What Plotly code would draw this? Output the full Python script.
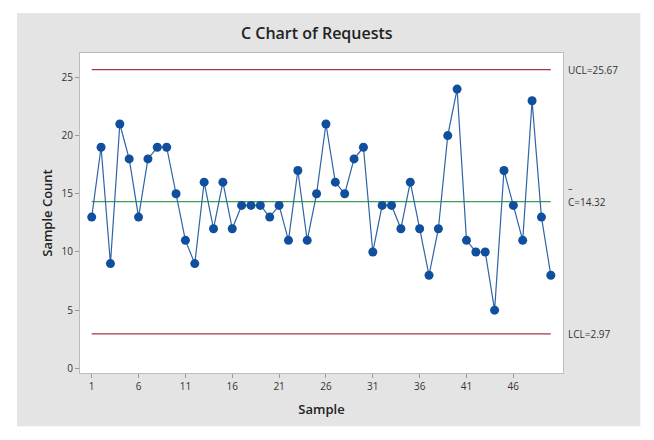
import plotly.graph_objects as go

samples = list(range(1, 51))
counts = [13, 19, 9, 21, 18, 13, 18, 19, 19, 15,
          11, 9, 16, 12, 16, 12, 14, 14, 14, 13,
          14, 11, 17, 11, 15, 21, 16, 15, 18, 19,
          10, 14, 14, 12, 16, 12, 8, 12, 20, 24,
          11, 10, 10, 5, 17, 14, 11, 23, 13, 8]
ucl = 25.67
center = 14.32
lcl = 2.97
x_ticks = [1, 6, 11, 16, 21, 26, 31, 36, 41, 46]
y_ticks = [0, 5, 10, 15, 20, 25]

FONT = "Open Sans"
red = "#a8354a"
green = "#3c9e4e"
blue = "#0f4f9e"

W, H = 646, 432
L, R, T, B = 72, 91.3, 45, 67.3
pw, ph = W - L - R, H - T - B

fig = go.Figure()
for val, col in [(ucl, red), (center, green), (lcl, red)]:
    fig.add_trace(go.Scatter(x=[samples[0], samples[-1]], y=[val, val], mode="lines",
                             line=dict(color=col, width=1.3), hoverinfo="skip", showlegend=False))
fig.add_trace(go.Scatter(x=samples, y=counts, mode="lines+markers",
                         line=dict(color="#2f64a4", width=1.2),
                         marker=dict(color=blue, size=9), showlegend=False))

fig.update_layout(
    width=W, height=H,
    margin=dict(l=L, r=R, t=T, b=B),
    paper_bgcolor="white", plot_bgcolor="white",
    font=dict(family=FONT, color="#222"),
    title=dict(text="C Chart of Requests", x=0.478, xanchor="center", y=0.942, yanchor="middle",
               font=dict(family=FONT, size=16, color="#222", weight=600)),
    shapes=[dict(type="rect", xref="paper", yref="paper", layer="below",
                 x0=(9 - L) / pw, x1=(632 - L) / pw, y0=-(418 - (H - B)) / ph, y1=((H - B) - 5) / ph,
                 fillcolor="#e4e4e4", line=dict(width=0)),
            dict(type="rect", xref="paper", yref="paper", layer="below",
                 x0=0, x1=1, y0=0, y1=1, fillcolor="white", line=dict(width=0))],
    xaxis=dict(range=[-0.25, 51.3], tickvals=x_ticks, ticks="outside", ticklen=4,
               tickcolor="#999", showgrid=False, zeroline=False, showline=True,
               linecolor="#bdbdbd", linewidth=1, mirror=True,
               tickfont=dict(size=10, color="#333"),
               title=dict(text="Sample", font=dict(size=13, color="#222", weight=600), standoff=12)),
    yaxis=dict(range=[-0.4, 27.1], tickvals=y_ticks, ticks="outside", ticklen=4,
               tickcolor="#999", showgrid=False, zeroline=False, showline=True,
               linecolor="#bdbdbd", linewidth=1, mirror=True,
               tickfont=dict(size=10, color="#333"),
               title=dict(text="Sample Count", font=dict(size=13, color="#222", weight=600), standoff=6)),
)

for txt, yv in [("UCL=25.67", ucl), ("C=14.32", center), ("LCL=2.97", lcl)]:
    fig.add_annotation(x=1.0, xref="paper", xanchor="left", xshift=3, y=yv, yref="y",
                       yshift=0, text=txt, showarrow=False, font=dict(size=10, color="#333"))
fig.add_annotation(x=1.0, xref="paper", xanchor="left", xshift=3, y=center, yref="y",
                   yshift=13, text="–", showarrow=False, font=dict(size=9, color="#333"))

fig.write_html("out.html")
